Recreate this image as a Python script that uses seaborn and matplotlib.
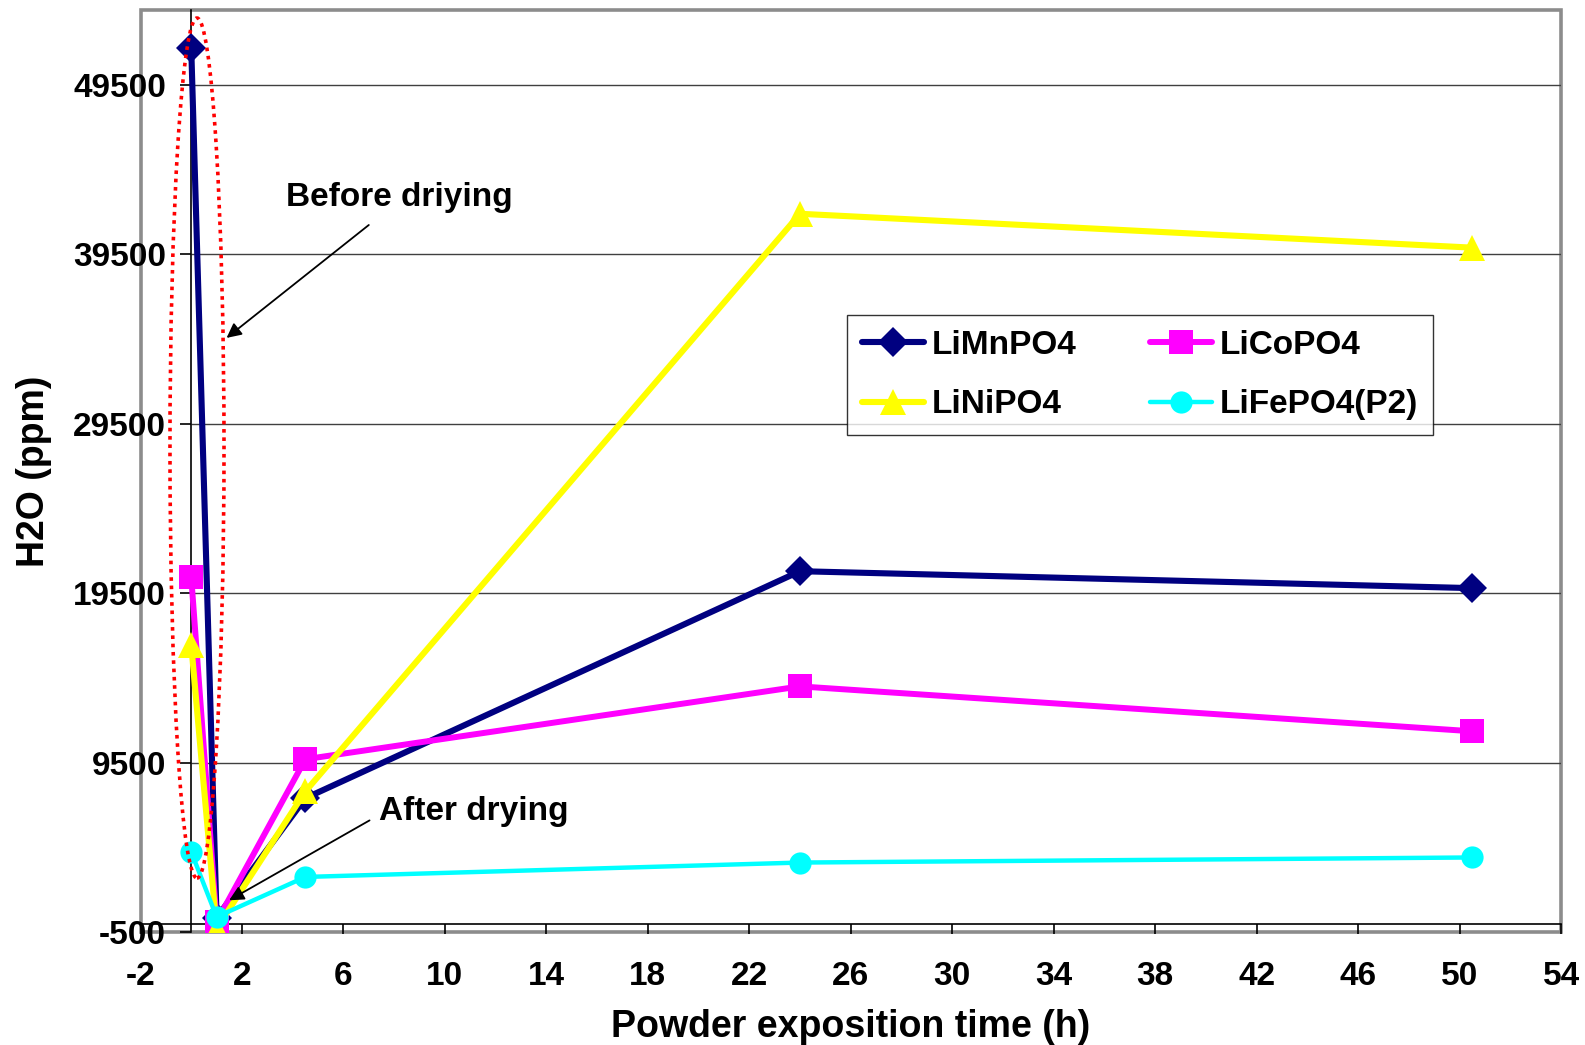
import numpy as np
import pandas as pd
import matplotlib
matplotlib.use("Agg")
import matplotlib.pyplot as plt
import seaborn as sns
from matplotlib.patches import Ellipse, Rectangle

# ---- data ----
hours = [0, 1, 4.5, 24, 50.5]
limnpo4 = [51700, 350, 7400, 20800, 19800]
licopo4 = [20450, 100, 9700, 14000, 11350]
linipo4 = [16450, -300, 7800, 41900, 39900]
lifepo4 = [4230, 390, 2750, 3600, 3900]

series_names = ["LiMnPO4", "LiCoPO4", "LiNiPO4", "LiFePO4(P2)"]
series_values = [limnpo4, licopo4, linipo4, lifepo4]
colors = ["#000080", "#FF00FF", "#FFFF00", "#00FFFF"]
markers = ["D", "s", "^", "o"]
msizes = [15.5, 17.5, 18.5, 16]
lwidths = [4.4, 4.3, 4.4, 3.2]

xticks = list(range(-2, 55, 4))
yticks = [-500, 9500, 19500, 29500, 39500, 49500]

sns.set_theme(style="white")
plt.rcParams["font.family"] = ["Liberation Sans", "DejaVu Sans"]
plt.rcParams["font.weight"] = "bold"
for k in ["text.color", "axes.labelcolor", "xtick.color", "ytick.color"]:
    plt.rcParams[k] = "black"

fig = plt.figure(figsize=(15.85, 10.45), dpi=100)
L, R, T, B = 140.5, 1561, 10, 932
ax = fig.add_axes([L / 1585, 1 - B / 1045, (R - L) / 1585, (B - T) / 1045])

ax.set_xlim(-2, 54)
ax.set_ylim(-500, 53930)

# gridlines from y-axis to the right
ax.hlines(yticks[1:], 0, 54, color="#404040", lw=1.0, zorder=1)

handles = {}
for name, vals, c, m, ms, lw in zip(series_names, series_values, colors, markers, msizes, lwidths):
    df = pd.DataFrame({"x": hours, "y": vals})
    sns.lineplot(data=df, x="x", y="y", ax=ax, color=c, lw=lw, marker=m,
                 markersize=ms, markeredgecolor=c, markeredgewidth=0,
                 label=name, zorder=3, legend=False)
    handles[name] = ax.get_lines()[-1]

# spines: y-axis crosses at x=0, x-axis crosses at y=0, gray frame
ax.spines["left"].set_position(("data", 0))
ax.spines["bottom"].set_position(("data", 0))
for s in ["left", "bottom"]:
    ax.spines[s].set_color("black")
    ax.spines[s].set_linewidth(1.2)
    ax.spines[s].set_zorder(2)
ax.spines["top"].set_visible(False)
ax.spines["right"].set_visible(False)
ax.add_patch(Rectangle((0, 0), 1, 1, transform=ax.transAxes, fill=False,
                       edgecolor="#8c8c8c", lw=2.6, clip_on=False, zorder=0.5))

ax.set_xticks(xticks)
ax.set_yticks(yticks)
ax.set_xticklabels([str(t) for t in xticks], fontsize=24, fontweight="bold")
ax.set_yticklabels([str(t) for t in yticks], fontsize=24, fontweight="bold")
ax.tick_params(axis="y", direction="out", length=8, width=1.2, pad=10, left=True)
ax.tick_params(axis="x", direction="out", length=7, width=1.2, pad=20, bottom=True)

ax.set_xlabel("Powder exposition time (h)", fontsize=27, fontweight="bold")
ax.set_ylabel("H2O (ppm)", fontsize=27, fontweight="bold")
ax.xaxis.set_label_coords(0.5, -0.084)
ax.yaxis.set_label_coords(-0.0623, 0.5)

# red dotted ellipse
ax.add_patch(Ellipse((0.227, 28070), width=2.13, height=50770, fill=False,
                     edgecolor="red", lw=2.6, linestyle=(0, (1, 1.3)), zorder=4))

# annotations
ax.text(3.735, 42890, "Before driying", fontsize=24, fontweight="bold", ha="left", va="center")
ax.annotate("", xy=(1.307, 34470), xytext=(7.086, 41340),
            arrowprops=dict(arrowstyle="-|>", color="black", lw=1.3, mutation_scale=22))
ax.text(7.40, 6610, "After drying", fontsize=24, fontweight="bold", ha="left", va="center")
ax.annotate("", xy=(1.398, 1290), xytext=(7.125, 6170),
            arrowprops=dict(arrowstyle="-|>", color="black", lw=1.3, mutation_scale=22), zorder=5)

order = ["LiMnPO4", "LiNiPO4", "LiCoPO4", "LiFePO4(P2)"]
leg = ax.legend([handles[n] for n in order], order, ncol=2, loc="upper left",
                bbox_to_anchor=(847 / 1585, 1 - 315 / 1045), bbox_transform=fig.transFigure,
                borderaxespad=0, prop={"size": 24, "weight": "bold"}, frameon=True,
                fancybox=False, edgecolor="black", handlelength=1.86, handletextpad=0.24,
                columnspacing=2.2, labelspacing=0.85, borderpad=0.45)
leg.get_frame().set_linewidth(1.0)

fig.savefig("out.png", dpi=100)
